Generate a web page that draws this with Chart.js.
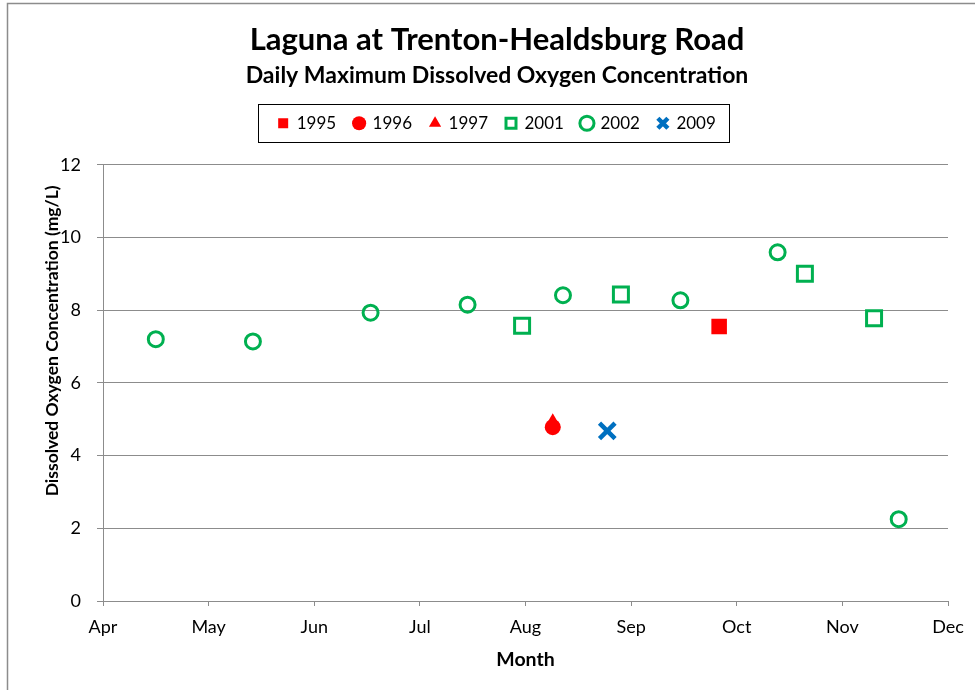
<!DOCTYPE html>
<html lang="en">
<head>
  <meta charset="UTF-8">
  <title>Laguna at Trenton-Healdsburg Road</title>
  <script src="https://cdn.jsdelivr.net/npm/chart.js"></script>
  <style>
    body {
      margin: 0;
      padding: 0;
      background-color: #fff;
    }
    .chart-container {
      width: 975px;
      height: 690px;
    }
  </style>
</head>
<body>
  <div class="chart-container">
    <canvas id="doChart" width="975" height="690"></canvas>
  </div>

  <script>
    // month ticks along the x axis (axis runs Apr 1 to Dec 1)
    const months = ['Apr', 'May', 'Jun', 'Jul', 'Aug', 'Sep', 'Oct', 'Nov', 'Dec'];
    const yTicks = [0, 2, 4, 6, 8, 10, 12];

    // sample dates (MM-DD) and daily max DO (mg/L) per year
    const dates1995 = ['09-26'];
    const do1995 = [7.55];

    const dates1996 = ['08-09'];
    const do1996 = [4.78];

    const dates1997 = ['08-09'];
    const do1997 = [4.92];

    const dates2001 = ['07-31', '08-29', '10-21', '11-10'];
    const do2001 = [7.57, 8.43, 9.0, 7.78];

    const dates2002 = ['04-16', '05-14', '06-17', '07-15', '08-12', '09-15', '10-13', '11-17'];
    const do2002 = [7.2, 7.14, 7.93, 8.15, 8.41, 8.27, 9.59, 2.25];

    const dates2009 = ['08-25'];
    const do2009 = [4.68];

    const RED = '#ff0000';
    const GREEN = '#00b050';
    const BLUE = '#0070c0';
    const GRID = '#8c8c8c';

    // month position: 0 = Apr 1, 1 = May 1, ...
    function monthPos(mmdd) {
      const [m, d] = mmdd.split('-').map(Number);
      const days = new Date(2001, m, 0).getDate();
      return (m - 4) + (d - 1) / days;
    }

    function points(dates, values) {
      return dates.map((d, i) => ({ x: monthPos(d), y: values[i] }));
    }

    // y title, legend frame and outer border
    const decorations = {
      id: 'decorations',
      beforeInit(chart) {
        const legend = chart.legend;
        const fit = legend.fit;
        legend.fit = function () {
          fit.call(this);
          this.height += 23;
        };
      },
      beforeDraw(chart) {
        const ctx = chart.ctx;
        ctx.save();
        ctx.strokeStyle = '#8c8c8c';
        ctx.lineWidth = 1.5;
        ctx.strokeRect(7.5, 3.5, chart.width + 10, chart.height + 10);
        ctx.restore();
      },
      afterDraw(chart) {
        const ctx = chart.ctx;
        const boxes = chart.legend.legendHitBoxes;
        if (boxes && boxes.length) {
          const first = boxes[0];
          const last = boxes[boxes.length - 1];
          const cy = first.top + first.height / 2;
          const left = Math.round(first.left - 20);
          const right = Math.round(last.left + last.width + 13);
          ctx.save();
          ctx.strokeStyle = '#000';
          ctx.lineWidth = 1;
          ctx.strokeRect(left + 0.5, Math.round(cy - 19) + 0.5, right - left, 38);
          ctx.restore();
        }
        const area = chart.chartArea;
        ctx.save();
        ctx.translate(52, (area.top + area.bottom) / 2 - 42);
        ctx.rotate(-Math.PI / 2);
        ctx.fillStyle = '#000';
        ctx.font = 'bold 17.5px Lato';
        ctx.textAlign = 'center';
        ctx.textBaseline = 'middle';
        ctx.fillText('Dissolved Oxygen Concentration (mg/L)', 0, 0);
        ctx.restore();
      }
    };

    const ctx = document.getElementById('doChart').getContext('2d');
    new Chart(ctx, {
      type: 'scatter',
      data: {
        datasets: [
          {
            label: '1995',
            data: points(dates1995, do1995),
            pointStyle: 'rect',
            pointRadius: 11,
            backgroundColor: RED,
            borderColor: RED,
            borderWidth: 0
          },
          {
            label: '1996',
            data: points(dates1996, do1996),
            pointStyle: 'circle',
            pointRadius: 8,
            backgroundColor: RED,
            borderColor: RED,
            borderWidth: 0
          },
          {
            label: '1997',
            data: points(dates1997, do1997),
            pointStyle: 'triangle',
            pointRadius: 9,
            backgroundColor: RED,
            borderColor: RED,
            borderWidth: 0
          },
          {
            label: '2001',
            data: points(dates2001, do2001),
            pointStyle: 'rect',
            pointRadius: 10.6,
            backgroundColor: 'rgba(0,0,0,0)',
            borderColor: GREEN,
            borderWidth: 3
          },
          {
            label: '2002',
            data: points(dates2002, do2002),
            pointStyle: 'circle',
            pointRadius: 7.5,
            backgroundColor: 'rgba(0,0,0,0)',
            borderColor: GREEN,
            borderWidth: 3
          },
          {
            label: '2009',
            data: points(dates2009, do2009),
            pointStyle: 'crossRot',
            pointRadius: 11,
            backgroundColor: BLUE,
            borderColor: BLUE,
            borderWidth: 4.5
          }
        ]
      },
      options: {
        responsive: false,
        animation: false,
        layout: {
          padding: { top: 23, left: 46, right: 27, bottom: 19 }
        },
        plugins: {
          title: {
            display: true,
            text: 'Laguna at Trenton-Healdsburg Road',
            color: '#000',
            font: { family: 'Lato', size: 31, weight: 'bold', lineHeight: 1.12 },
            padding: { top: 0, bottom: 6 }
          },
          subtitle: {
            display: true,
            text: 'Daily Maximum Dissolved Oxygen Concentration',
            color: '#000',
            font: { family: 'Lato', size: 23, weight: 'bold', lineHeight: 1.0 },
            padding: { top: 0, bottom: 10 }
          },
          legend: {
            position: 'top',
            labels: {
              usePointStyle: true,
              boxWidth: 10,
              boxHeight: 10,
              padding: 18,
              color: '#000',
              font: { family: 'Lato', size: 17 }
            }
          },
          tooltip: { enabled: false }
        },
        scales: {
          x: {
            type: 'linear',
            min: 0,
            max: months.length - 1,
            afterBuildTicks(scale) {
              scale.ticks = months.map((m, i) => ({ value: i }));
            },
            ticks: {
              color: '#000',
              padding: 10,
              maxRotation: 0,
              font: { family: 'Lato', size: 18 },
              callback: (value) => months[value]
            },
            grid: {
              drawOnChartArea: false,
              drawTicks: true,
              tickLength: 5,
              color: GRID
            },
            border: { display: true, color: GRID, width: 1 },
            title: {
              display: true,
              text: 'Month',
              color: '#000',
              font: { family: 'Lato', size: 19.5, weight: 'bold' },
              padding: { top: 0, bottom: 0 }
            }
          },
          y: {
            min: 0,
            max: 12,
            afterBuildTicks(scale) {
              scale.ticks = yTicks.map(v => ({ value: v }));
            },
            afterFit(scale) {
              scale.width = 57;
            },
            ticks: {
              color: '#000',
              padding: 16,
              font: { family: 'Lato', size: 18 }
            },
            grid: {
              color: GRID,
              tickLength: 6
            },
            border: { display: true, color: GRID, width: 1 }
          }
        }
      },
      plugins: [decorations]
    });
  </script>
</body>
</html>
